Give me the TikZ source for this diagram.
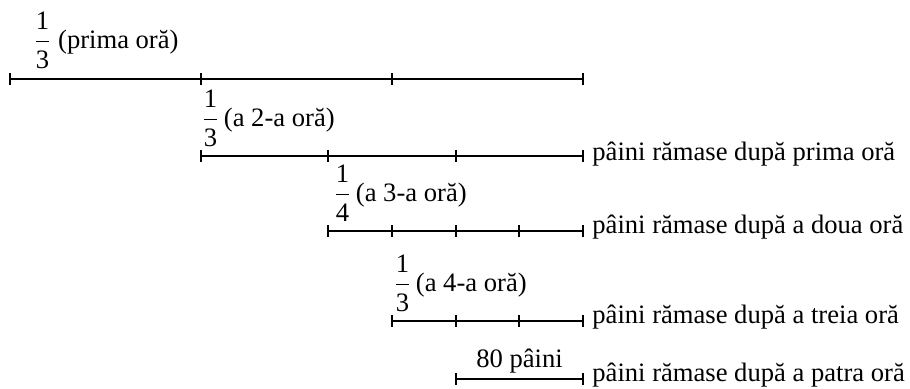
\documentclass[tikz,border=0pt]{standalone}
\usepackage{fontspec}
\setmainfont{Liberation Serif}
\newcommand{\fr}[2]{\ensuremath{\displaystyle\frac{\mbox{#1}}{\mbox{#2}}}}
\tikzset{
	seg/.style={line width=1pt},
	lbl/.style={inner sep=0pt},
	rest/.style={lbl, anchor=base west, xshift=4.5pt, yshift=-1.5pt},
}

\begin{document}
\begin{tikzpicture}[x=0.5pt,y=-0.5pt,font=\fontsize{13.3}{16}\selectfont]
		\useasboundingbox (0,0) rectangle (910,389);
		\def\tk{3pt};
		% toate painile
		\foreach \n/\x in {a0/10,a1/201,a2/392,a3/583}
			\coordinate (\n) at (\x,79);
		\draw[seg] (a0) -- (a3);
		\foreach \n in {a0,a1,a2,a3}
			\draw[seg] ([yshift=\tk]\n) -- ([yshift=-\tk]\n);
		\node[lbl, anchor=base west] (t1) at (33,49) {\fr{1}{3} (prima oră)};
		
		% dupa prima ora
		\foreach \n/\x in {b0/201,b1/328,b2/456,b3/583}
			\coordinate (\n) at (\x,156);
		\draw[seg] (b0) -- (b3);
		\foreach \n in {b0,b1,b2,b3}
			\draw[seg] ([yshift=\tk]\n) -- ([yshift=-\tk]\n);
		\node[lbl, anchor=base west] (t2) at (201,127) {\fr{1}{3}\,(a 2-a oră)};
		\node[lbl, anchor=mid west, xshift=4.5pt] (r2) at (b3) {pâini rămase după prima oră};
		
		% dupa a doua ora
		\foreach \n/\x in {c0/328,c1/392,c2/456,c3/519,c4/583}
			\coordinate (\n) at (\x,231);
		\draw[seg] (c0) -- (c4);
		\foreach \n in {c0,c1,c2,c3,c4}
			\draw[seg] ([yshift=\tk]\n) -- ([yshift=-\tk]\n);
		\node[lbl, anchor=base west] (t3) at (333,202) {\fr{1}{4}\,(a 3-a oră)};
		\node[rest] (r3) at (c4) {pâini rămase după a doua oră};
		
		% dupa a treia ora
		\foreach \n/\x in {d0/392,d1/456,d2/519,d3/583}
			\coordinate (\n) at (\x,321);
		\draw[seg] (d0) -- (d3);
		\foreach \n in {d0,d1,d2,d3}
			\draw[seg] ([yshift=\tk]\n) -- ([yshift=-\tk]\n);
		\node[lbl, anchor=base west] (t4) at (393,292) {\fr{1}{3}\,(a 4-a oră)};
		\node[rest] (r4) at (d3) {pâini rămase după a treia oră};
		
		% dupa a patra ora
		\coordinate (e0) at (456,379);
		\coordinate (e1) at (583,379);
		\draw[seg] (e0) -- node[lbl, anchor=base, yshift=5.5pt] (n80) {80 pâini} (e1);
		\foreach \n in {e0,e1}
			\draw[seg] ([yshift=\tk]\n) -- ([yshift=-\tk]\n);
		\node[rest] (r5) at (e1) {pâini rămase după a patra oră};
	\end{tikzpicture}
\end{document}
